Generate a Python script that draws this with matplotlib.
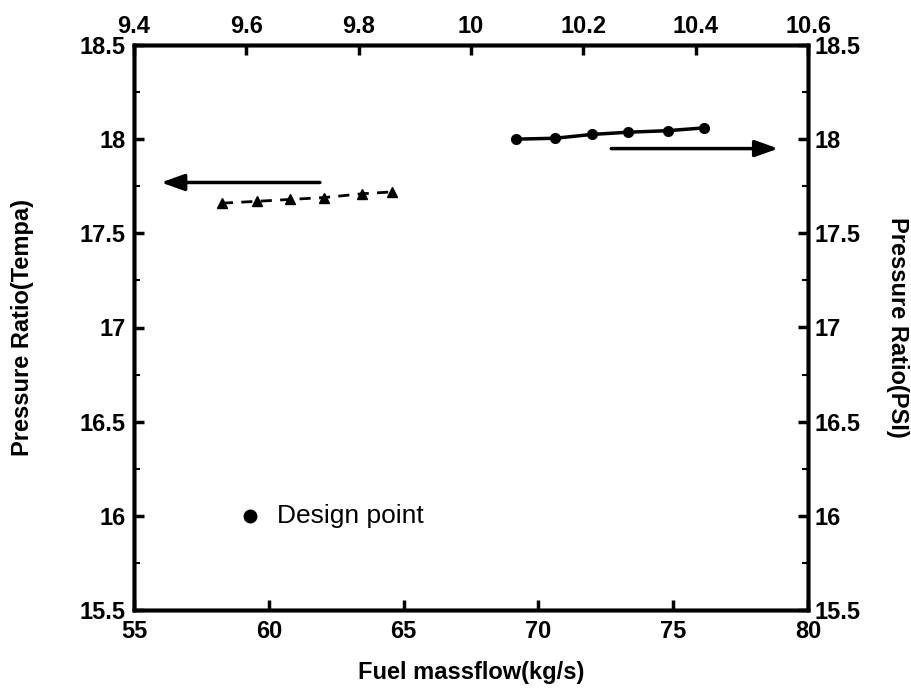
import numpy as np
import matplotlib.pyplot as plt
from matplotlib.ticker import AutoMinorLocator

plt.rcParams['font.family'] = ['Liberation Sans', 'DejaVu Sans']
plt.rcParams['font.weight'] = 'bold'

# Tempa series (bottom / left axes)
tempa_flow = [58.26, 59.56, 60.79, 62.05, 63.46, 64.57]
tempa_pr = [17.66, 17.67, 17.68, 17.69, 17.71, 17.72]

# PSI series (top / right axes)
psi_flow = [10.08, 10.15, 10.215, 10.28, 10.35, 10.415]
psi_pr = [18.00, 18.005, 18.025, 18.037, 18.045, 18.06]

bottom_ticks = [55, 60, 65, 70, 75, 80]
top_ticks = [9.4, 9.6, 9.8, 10, 10.2, 10.4, 10.6]
y_ticks = [15.5, 16, 16.5, 17, 17.5, 18, 18.5]

W, H = 911, 692
fig = plt.figure(figsize=(W / 100, H / 100), dpi=100)
ax = fig.add_axes([134 / W, 1 - 610 / H, 674 / W, 565 / H])

ax.plot(tempa_flow, tempa_pr, color='black', ls='--', lw=2, dashes=(4, 3),
        marker='^', ms=7)
ax.set_xlim(55, 80)
ax.set_ylim(15.5, 18.5)
ax.set_xticks(bottom_ticks)
ax.set_yticks(y_ticks)
ax.set_yticklabels([f'{v:g}' for v in y_ticks])
ax.set_xlabel('Fuel massflow(kg/s)', fontsize=17, fontweight='bold')
ax.set_ylabel('Pressure Ratio(Tempa)', fontsize=17, fontweight='bold')
ax.xaxis.set_label_coords(0.5, -(661 - 610) / 565, transform=ax.transAxes)
ax.yaxis.set_label_coords(-(134 - 34) / 674, 0.5, transform=ax.transAxes)

# design point legend
ax.plot([59.3], [16.0], 'o', color='black', ms=9)
ax.text(60.3, 16.0, 'Design point', fontsize=19, va='center', fontweight='normal')

# arrows
ax.annotate('', xy=(55.9, 17.77), xytext=(62.0, 17.77),
            arrowprops=dict(arrowstyle='-|>,head_length=1.4,head_width=0.5',
                            color='black', lw=2.5))
ax.annotate('', xy=(79.0, 17.95), xytext=(72.6, 17.95),
            arrowprops=dict(arrowstyle='-|>,head_length=1.4,head_width=0.5',
                            color='black', lw=2.5))

axt = ax.twiny()
axr = axt.twinx()
axr.plot(psi_flow, psi_pr, color='black', lw=2.5, marker='o', ms=7)
axt.set_xlim(9.4, 10.6)
axr.set_xlim(9.4, 10.6)
axr.set_ylim(15.5, 18.5)
axt.set_xticks(top_ticks)
axt.set_xticklabels([f'{v:g}' for v in top_ticks])
axr.set_yticks(y_ticks)
axr.set_yticklabels([f'{v:g}' for v in y_ticks])
axr.set_ylabel('Pressure Ratio(PSI)', fontsize=17, fontweight='bold', rotation=-90)
axr.yaxis.set_label_coords((909 - 134) / 674, 0.5, transform=axr.transAxes)

for a in (ax, axt, axr):
    for s in a.spines.values():
        s.set_linewidth(2.5)
    a.tick_params(direction='in', length=7, width=2.5, labelsize=17)
    a.tick_params(which='minor', direction='in', length=4, width=1.5)
ax.yaxis.set_minor_locator(AutoMinorLocator(2))
axr.yaxis.set_minor_locator(AutoMinorLocator(2))
ax.tick_params(axis='x', pad=7)
ax.tick_params(axis='y', pad=6)
axr.tick_params(axis='y', pad=5)
axt.tick_params(axis='x', pad=5)

fig.savefig('out.png', dpi=100)
